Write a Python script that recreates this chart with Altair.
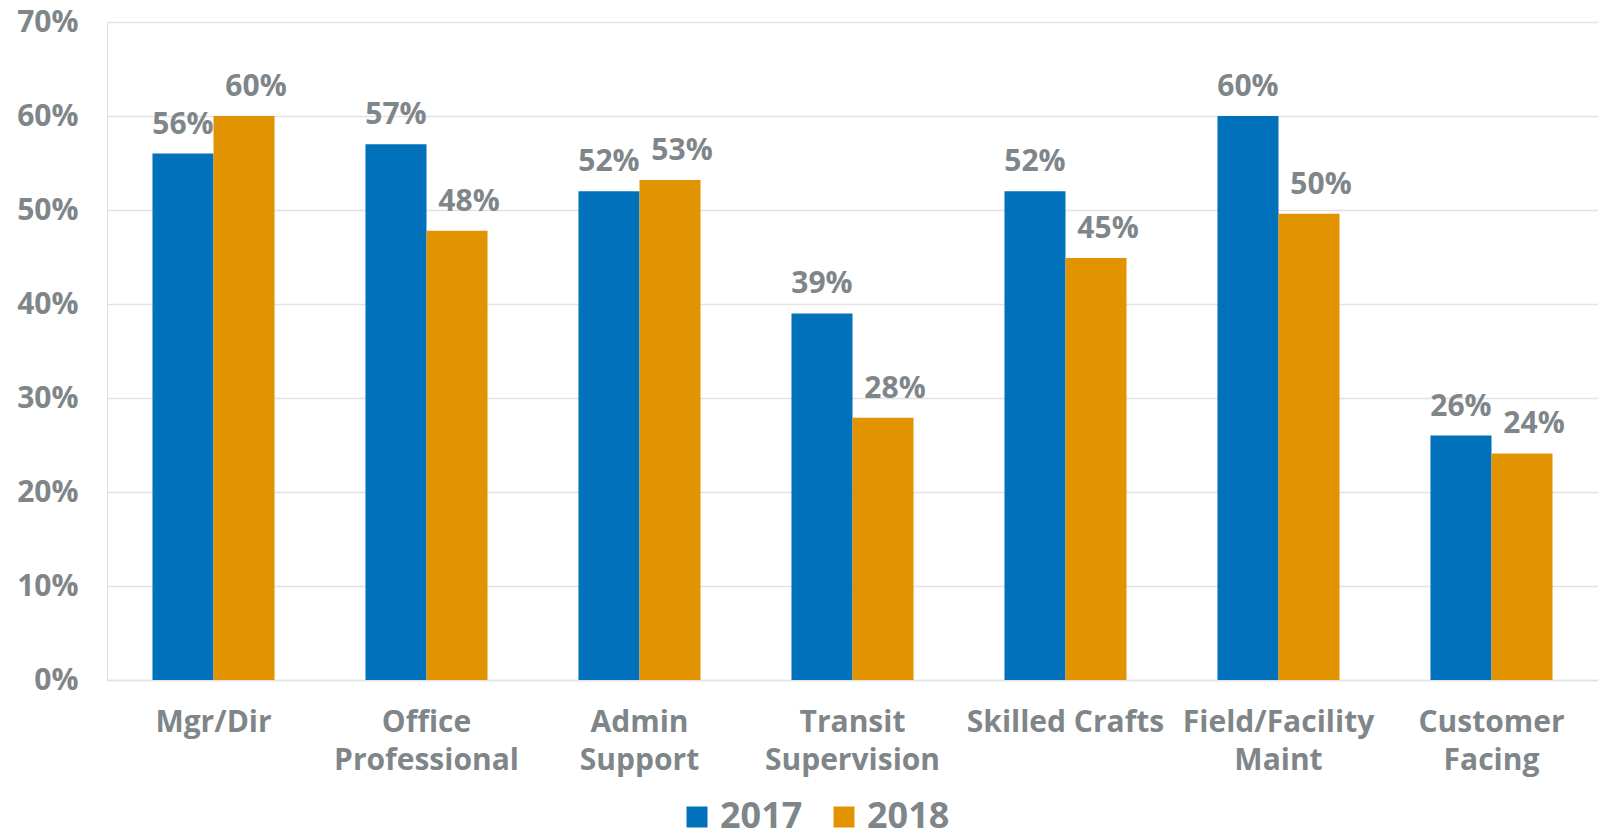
import altair as alt
import pandas as pd

categories = ["Mgr/Dir", "Office|Professional", "Admin|Support", "Transit|Supervision",
              "Skilled Crafts", "Field/Facility|Maint", "Customer|Facing"]
years = ["2017", "2018"]
values_2017 = [0.56, 0.57, 0.52, 0.39, 0.52, 0.60, 0.26]
values_2018 = [0.60, 0.478, 0.532, 0.279, 0.449, 0.496, 0.241]

rows = []
for c, a, b in zip(categories, values_2017, values_2018):
    rows.append({"cat": c, "year": "2017", "value": a})
    rows.append({"cat": c, "year": "2018", "value": b})
df = pd.DataFrame(rows)

FONT = "Open Sans"
GRAY = "#7F8689"
BLUE = "#0071BA"
ORANGE = "#E19400"

x = alt.X("cat:N", sort=categories, title=None,
          scale=alt.Scale(paddingInner=0.427, paddingOuter=0.2135),
          axis=alt.Axis(labelAngle=0, labelExpr="split(datum.label, '|')",
                        labelFont=FONT, labelFontSize=30, labelFontWeight="bold",
                        labelColor=GRAY, labelLineHeight=38, labelPadding=27,
                        labelLimit=400, labelOverlap=False, ticks=False,
                        domainColor="#E2E2E2", domainWidth=1.5, grid=False))
xo = alt.XOffset("year:N", sort=years, scale=alt.Scale(paddingInner=0, paddingOuter=0))

bars = alt.Chart(df).mark_bar().encode(
    x=x,
    xOffset=xo,
    y=alt.Y("value:Q", title=None,
            scale=alt.Scale(domain=[0, 0.7], nice=False),
            axis=alt.Axis(values=[0, 0.1, 0.2, 0.3, 0.4, 0.5, 0.6, 0.7], format=".0%",
                          labelFont=FONT, labelFontSize=30, labelFontWeight="bold",
                          labelColor=GRAY, labelPadding=29, ticks=False, domain=False,
                          gridColor="#E2E2E2", gridWidth=1.5)),
    color=alt.Color("year:N", sort=years,
                    scale=alt.Scale(domain=years, range=[BLUE, ORANGE]),
                    legend=alt.Legend(title=None, orient="none", direction="horizontal",
                                      legendX=572, legendY=777, symbolType="square",
                                      symbolSize=441, symbolStrokeWidth=0,
                                      labelFont=FONT, labelFontSize=36, labelFontWeight="bold",
                                      labelColor=GRAY, labelOffset=5, columnPadding=23,
                                      padding=0)),
)

def labels(year, dx):
    return alt.Chart(df).transform_filter(alt.datum.year == year).mark_text(
        font=FONT, fontSize=30, fontWeight="bold", color=GRAY,
        baseline="alphabetic", dy=-20, dx=dx
    ).encode(
        x=alt.X("cat:N", sort=categories),
        xOffset=xo,
        y=alt.Y("value:Q"),
        text=alt.Text("value:Q", format=".0%"),
    )

chart = alt.layer(bars, labels("2017", 0), labels("2018", 12)).properties(
    width=1491, height=658,
    autosize=alt.AutoSizeParams(type="none"),
    padding={"left": 107, "top": 22, "right": 0, "bottom": 160},
).configure_view(stroke=None).configure(background="white")

chart.save("out.html", embed_options={"renderer": "svg", "actions": False})
